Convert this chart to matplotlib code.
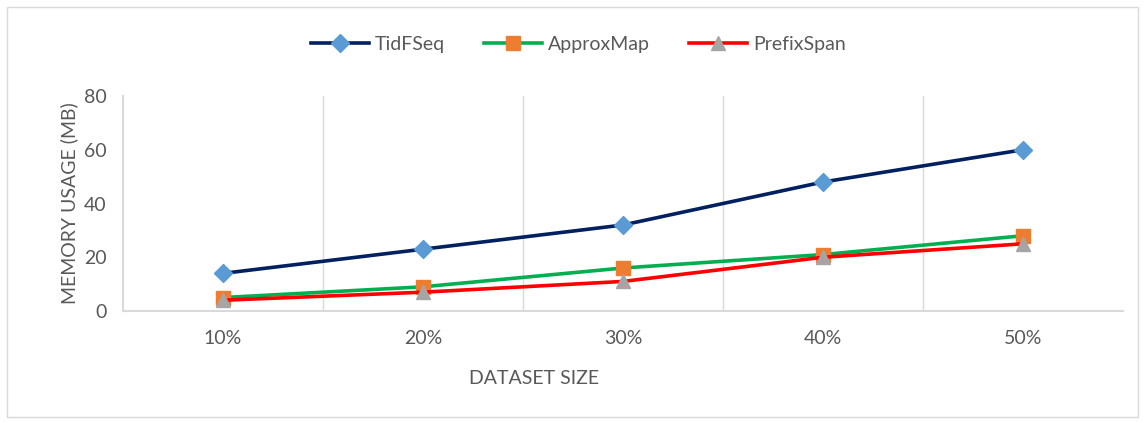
import matplotlib.pyplot as plt
from matplotlib.patches import Rectangle

sizes = ["10%", "20%", "30%", "40%", "50%"]
tidfseq = [14, 23, 32, 48, 60]
approxmap = [5, 9, 16, 21, 28]
prefixspan = [4, 7, 11, 20, 25]

plt.rcParams['font.family'] = ['Lato', 'DejaVu Sans']
txt = '#595959'
grid = '#D9D9D9'

fig = plt.figure(figsize=(11.45, 4.23), dpi=100)
fig.patches.append(Rectangle((0.006, 0.014), 0.988, 0.97, transform=fig.transFigure,
                             fill=False, edgecolor=grid, linewidth=1))
ax = fig.add_axes([0.1074, 0.2648, 0.8734, 0.5082])

x = range(len(sizes))
ax.plot(x, tidfseq, color='#002060', lw=2.6, marker='D', ms=9,
        mfc='#5B9BD5', mec='#5B9BD5', label='TidFSeq')
ax.plot(x, approxmap, color='#00B050', lw=2.6, marker='s', ms=10,
        mfc='#ED7D31', mec='#ED7D31', label='ApproxMap')
ax.plot(x, prefixspan, color='#FF0000', lw=2.6, marker='^', ms=10.5,
        mfc='#A5A5A5', mec='#A5A5A5', label='PrefixSpan')

ax.set_xlim(-0.5, 4.5)
ax.set_ylim(0, 80)
ax.set_yticks([0, 20, 40, 60, 80])
ax.set_xticks(list(x))
ax.set_xticklabels(sizes)
ax.set_xticks([0.5, 1.5, 2.5, 3.5], minor=True)
ax.grid(True, which='minor', axis='x', color=grid, lw=1)
ax.tick_params(which='both', length=0, colors=txt, labelsize=14)
ax.tick_params(axis='x', pad=14)
ax.tick_params(axis='y', pad=12)
for s in ['top', 'right']:
    ax.spines[s].set_visible(False)
for s in ['left', 'bottom']:
    ax.spines[s].set_color(grid)
    ax.spines[s].set_linewidth(1.5)

ax.set_ylabel('MEMORY USAGE (MB)', color=txt, fontsize=14, labelpad=4)
fig.text(0.466, 0.105, 'DATASET SIZE', color=txt, fontsize=14, ha='center', va='center')

leg = fig.legend(loc='center', bbox_to_anchor=(0.505, 0.895), ncol=3, frameon=False,
                 fontsize=14, handlelength=3.0, columnspacing=2.0, handletextpad=0.3)
for t in leg.get_texts():
    t.set_color(txt)

fig.savefig('out.png', dpi=100)
